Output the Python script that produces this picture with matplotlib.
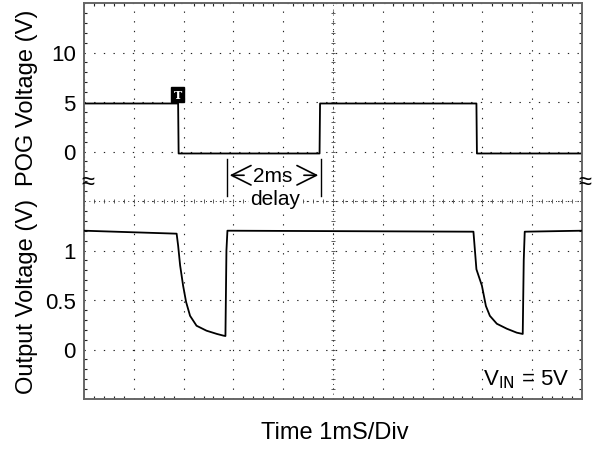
import numpy as np
import matplotlib
matplotlib.use("Agg")
import matplotlib.pyplot as plt
from matplotlib.ticker import MultipleLocator

plt.rcParams['font.family'] = ['Liberation Sans', 'DejaVu Sans']

# time in ms (1 ms / div), POG trace in volts
pog_t = [0, 1.89, 1.90, 4.73, 4.74, 7.88, 7.89, 10]
pog_v = [4.85, 4.85, -0.2, -0.2, 4.85, 4.85, -0.2, -0.2]

# output trace in volts
out_t = [0, 1.86, 1.89, 1.93, 1.99, 2.05, 2.13, 2.26, 2.46, 2.67, 2.80, 2.84,
         2.86, 2.88, 7.82, 7.88, 7.99, 8.07, 8.15, 8.29, 8.49, 8.69, 8.81,
         8.83, 8.85, 10]
out_v = [1.2, 1.17, 1.05, 0.85, 0.645, 0.48, 0.34, 0.24, 0.19, 0.157, 0.14,
         0.136, 1.0, 1.2, 1.19, 0.81, 0.645, 0.44, 0.34, 0.26, 0.21, 0.17,
         0.157, 0.9, 1.19, 1.2]

pog_ticks = [0, 5, 10]
out_ticks = [0, 0.5, 1]

fig = plt.figure(figsize=(5.97, 4.64), dpi=100)
rect = [84 / 597, 1 - 400 / 464, 498 / 597, 396 / 464]

# top axes: POG scale (5 V/div, 0 V at 5th division)
ax = fig.add_axes(rect)
ax.set_xlim(0, 10)
ax.set_ylim(-25, 15)
ax.set_xticks(np.arange(0, 10.01, 1))
ax.set_xticklabels([])
yt = np.arange(-25, 15.01, 5)
ax.set_yticks(yt)
ax.set_yticklabels([str(int(v)) if v in pog_ticks else '' for v in yt],
                   fontsize=16)
ax.xaxis.set_minor_locator(MultipleLocator(0.2))
ax.yaxis.set_minor_locator(MultipleLocator(1))
ax.tick_params(which='major', length=0, pad=6)
ax.tick_params(which='minor', direction='in', length=2.5, width=0.8,
               top=True, right=True, color='#222')
dot = (0, (1.2, 7.5))
ax.grid(True, which='major', color='#222', linestyle=dot, linewidth=0.8)
for s in ax.spines.values():
    s.set_color('#666')
    s.set_linewidth(1.4)

# center cross with fine ticks
ax.axhline(-5, color='#333', linestyle=(0, (1, 4)), linewidth=0.7)
ax.axvline(5, color='#333', linestyle=(0, (1, 4)), linewidth=0.7)
fine_x = np.arange(0, 10.01, 0.2)
ax.plot(fine_x, np.full_like(fine_x, -5), linestyle='none', marker='|',
        markersize=3, color='#444', markeredgewidth=0.6)
fine_y = np.arange(-25, 15.01, 1)
ax.plot(np.full_like(fine_y, 5), fine_y, linestyle='none', marker='_',
        markersize=3, color='#444', markeredgewidth=0.6)

ax.plot(pog_t, pog_v, color='black', linewidth=1.3)

# trigger marker
ax.text(1.88, 5.76, 'T', fontsize=8, fontweight='bold', family='DejaVu Serif',
        color='white', ha='center', va='center',
        bbox=dict(boxstyle='square,pad=0.2', fc='black', ec='black'))

# 2ms delay annotation
ax.plot([2.87, 2.87], [-0.8, -4.5], color='black', linewidth=1)
ax.plot([4.76, 4.76], [-0.8, -4.5], color='black', linewidth=1)
ax.annotate('', xy=(2.87, -2.4), xytext=(3.27, -2.4),
            arrowprops=dict(arrowstyle='->,head_length=0.7,head_width=0.35',
                            lw=1.2, mutation_scale=20))
ax.annotate('', xy=(4.76, -2.4), xytext=(4.36, -2.4),
            arrowprops=dict(arrowstyle='->,head_length=0.7,head_width=0.35',
                            lw=1.2, mutation_scale=20))
ax.text(3.79, -2.4, '2ms', fontsize=15, ha='center', va='center')
ax.text(3.83, -4.75, 'delay', fontsize=15, ha='center', va='center',
        bbox=dict(boxstyle='square,pad=0.05', fc='white', ec='none'))

# bottom axes: output scale (0.5 V/div, 0 V at 1st division)
ax2 = fig.add_axes(rect)
ax2.patch.set_visible(False)
ax2.set_xlim(0, 10)
ax2.set_ylim(-0.5, 3.5)
ax2.set_xticks([])
ax2.set_yticks(out_ticks)
ax2.set_yticklabels(['0', '0.5', '1'], fontsize=16)
ax2.tick_params(length=0, pad=6)
for s in ax2.spines.values():
    s.set_visible(False)
ax2.plot(out_t, out_v, color='black', linewidth=1.3)
ax2.text(9.75, -0.3, r'V$_{\mathrm{IN}}$ = 5V', fontsize=16,
         ha='right', va='center')

# break marks
fig.text(88 / 597, 1 - 183 / 464, '≈', fontsize=17, ha='center', va='center')
fig.text(585 / 597, 1 - 183 / 464, '≈', fontsize=17, ha='center', va='center')

fig.text(27 / 597, 1 - 98 / 464, 'POG Voltage (V)', fontsize=17,
         rotation=90, ha='center', va='center')
fig.text(27 / 597, 1 - 296 / 464, 'Output Voltage (V)', fontsize=17,
         rotation=90, ha='center', va='center')
fig.text(335 / 597, 1 - 433 / 464, 'Time 1mS/Div', fontsize=17,
         ha='center', va='center')

fig.savefig('out.png', dpi=100)
